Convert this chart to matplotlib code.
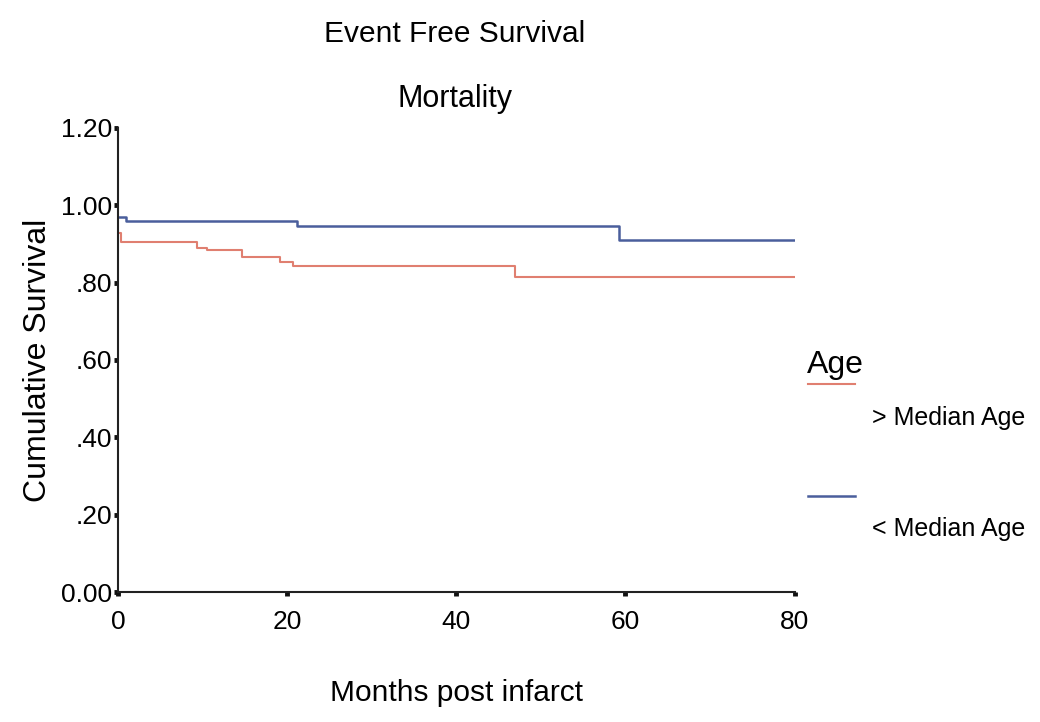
import matplotlib.pyplot as plt
from matplotlib.lines import Line2D

plt.rcParams['font.family'] = ['Liberation Sans', 'DejaVu Sans']

# Kaplan-Meier step curves (months, cumulative survival)
older_months = [0, 0.3, 9.3, 10.5, 14.6, 19.1, 20.7, 46.9, 80]
older_surv = [0.928, 0.904, 0.890, 0.884, 0.867, 0.854, 0.842, 0.814, 0.814]

younger_months = [0, 1.0, 21.2, 59.2, 80]
younger_surv = [0.970, 0.959, 0.945, 0.910, 0.910]

x_ticks = [0, 20, 40, 60, 80]
y_ticks = [0.0, 0.2, 0.4, 0.6, 0.8, 1.0, 1.2]
y_tick_labels = ['0.00', '.20', '.40', '.60', '.80', '1.00', '1.20']

red = '#e07f70'
blue = '#4a5e9c'

fig = plt.figure(figsize=(10.4, 7.22), dpi=100)
ax = fig.add_axes([0.1135, 0.180, 0.6505, 0.643])

ax.step(older_months, older_surv, where='post', color=red, lw=1.5)
ax.step(younger_months, younger_surv, where='post', color=blue, lw=1.8)

ax.set_xlim(0, 80)
ax.set_ylim(0, 1.2)
ax.set_xticks(x_ticks)
ax.set_yticks(y_ticks)
ax.set_yticklabels(y_tick_labels)
ax.tick_params(direction='out', length=3, width=3.5, labelsize=19, color='#111111')
ax.tick_params(axis='y', pad=1)
ax.tick_params(axis='x', pad=10)
for s in ['top', 'right']:
    ax.spines[s].set_visible(False)
for s in ['left', 'bottom']:
    ax.spines[s].set_linewidth(1.5)
    ax.spines[s].set_color('#222222')

ax.set_xlabel('Months post infarct', fontsize=21.5, labelpad=32)
ax.set_ylabel('Cumulative Survival', fontsize=23, labelpad=6)

fig.text(0.4375, 0.953, 'Event Free Survival', fontsize=21.5, ha='center', va='center')
fig.text(0.4375, 0.863, 'Mortality', fontsize=22, ha='center', va='center')

# legend block on the right
fig.text(0.776, 0.495, 'Age', fontsize=23, ha='left', va='center')
fig.add_artist(Line2D([0.777, 0.822], [0.468, 0.468], color=red, lw=1.5))
fig.text(0.838, 0.421, '> Median Age', fontsize=18, ha='left', va='center')
fig.add_artist(Line2D([0.777, 0.822], [0.313, 0.313], color=blue, lw=1.8))
fig.text(0.838, 0.268, '< Median Age', fontsize=18, ha='left', va='center')

fig.savefig('out.png', dpi=100)
